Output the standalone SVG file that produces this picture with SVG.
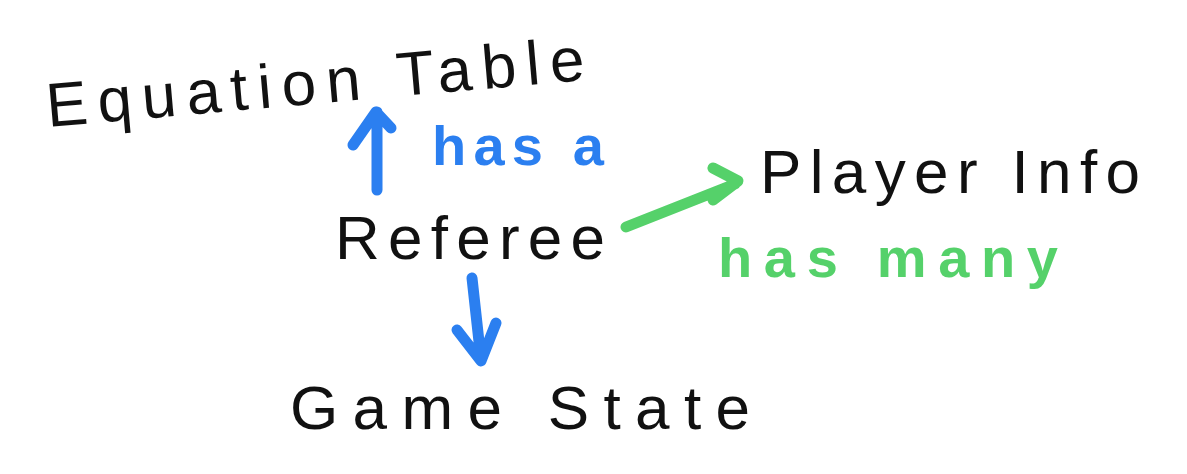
<svg xmlns="http://www.w3.org/2000/svg" width="1187" height="474" viewBox="0 0 1187 474">
<style>
.node{font-family:"Liberation Sans",Arial,sans-serif;fill:#111;font-size:62px;}
.lbl{font-family:"Liberation Sans",Arial,sans-serif;font-weight:bold;font-size:56px;}
.blue{stroke:#2b7ff0;fill:none;stroke-width:11;stroke-linecap:round;stroke-linejoin:round;}
.green{stroke:#55d16a;fill:none;stroke-width:11;stroke-linecap:round;stroke-linejoin:round;}
</style>
<rect width="1187" height="474" fill="#ffffff"/>
<g id="equation-table">
<text class="node" x="48" y="127" textLength="540" lengthAdjust="spacing" transform="rotate(-5 48 127)">Equation Table</text>
</g>
<g id="referee">
<text class="node" x="335" y="259" textLength="270" lengthAdjust="spacing">Referee</text>
</g>
<g id="player-info">
<text class="node" x="760" y="193" textLength="380" lengthAdjust="spacing">Player Info</text>
</g>
<g id="game-state">
<text class="node" x="290" y="429" textLength="460" lengthAdjust="spacing">Game State</text>
</g>
<g id="connectors">
<path class="blue" d="M377 190 L377 112 M353 145 L376 112 L391 128"/>
<text class="lbl" x="432" y="165" fill="#2b7ff0" textLength="172" lengthAdjust="spacing">has a</text>
<path class="blue" d="M472 278 L481 360 M457 330 L481 361 L496 323"/>
<path class="green" d="M626 227 L735 184 M713 168 L738 181 L713 200"/>
<text class="lbl" x="718" y="277" fill="#55d16a" textLength="340" lengthAdjust="spacing">has many</text>
</g>
</svg>
